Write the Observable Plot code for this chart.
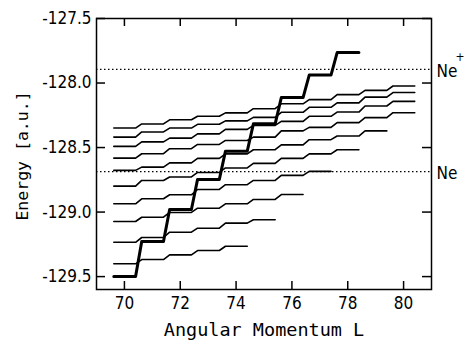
<!DOCTYPE html>
<html>
<head>
<meta charset="utf-8">
<script src="https://cdn.jsdelivr.net/npm/d3@7"></script>
<script src="https://cdn.jsdelivr.net/npm/@observablehq/plot@0.6"></script>
<style>
  html, body { margin: 0; padding: 0; background: white; }
</style>
</head>
<body>
<div id="chart"></div>
<script>
// Angular momentum values
const Ls = [70, 71, 72, 73, 74, 75, 76, 77, 78, 79, 80];
// Thin staircase series (energies in a.u., starting at L = 70)
const s1 = [-128.349, -128.317, -128.285, -128.258, -128.231, -128.199, -128.161, -128.129, -128.090, -128.057, -128.023];
const s2 = [-128.419, -128.379, -128.349, -128.320, -128.293, -128.266, -128.227, -128.188, -128.154, -128.109, -128.074];
const s3 = [-128.491, -128.456, -128.427, -128.394, -128.359, -128.328, -128.297, -128.258, -128.225, -128.178, -128.142];
const s4 = [-128.582, -128.548, -128.509, -128.476, -128.445, -128.419, -128.371, -128.344, -128.307, -128.268, -128.230];
const s5 = [-128.677, -128.652, -128.619, -128.584, -128.549, -128.517, -128.479, -128.439, -128.411, -128.371];
const s6 = [-128.799, -128.755, -128.728, -128.693, -128.658, -128.623, -128.584, -128.549, -128.517];
const s7 = [-128.936, -128.897, -128.866, -128.825, -128.788, -128.755, -128.716, -128.685];
const s8 = [-129.073, -129.040, -129.003, -128.970, -128.936, -128.902, -128.864];
const s9 = [-129.234, -129.197, -129.156, -129.125, -129.086, -129.060];
const s10 = [-129.401, -129.368, -129.332, -129.298, -129.265];
// Bold (yrast) series
const yrast = [-129.500, -129.228, -128.980, -128.747, -128.528, -128.316, -128.113, -127.938, -127.764];
// Thresholds
const thresholdNames = ["Ne", "Ne"];
const thresholdSup = ["+", ""];
const thresholdEnergies = [-127.895, -128.686];
// Ticks
const xTicks = [70, 72, 74, 76, 78, 80];
const yTicks = [-127.5, -128.0, -128.5, -129.0, -129.5];

// Each level is drawn as a short plateau around its integer L
const halfLeft = 0.38, halfRight = 0.40;
function stairs(values, id) {
  const pts = [];
  values.forEach((e, i) => {
    pts.push({L: Ls[i] - halfLeft, E: e, s: id});
    pts.push({L: Ls[i] + halfRight, E: e, s: id});
  });
  return pts;
}
const thinSeries = [s1, s2, s3, s4, s5, s6, s7, s8, s9, s10];
const thinPts = thinSeries.flatMap((v, k) => stairs(v, "s" + (k + 1)));
const boldPts = stairs(yrast, "yrast");
const thresholds = thresholdNames.map((n, i) => ({name: n, sup: thresholdSup[i], E: thresholdEnergies[i]}));
const supLabels = thresholds.filter(d => d.sup);

const W = 466, H = 343, mL = 96, mR = 35, mT = 18, mB = 54;
const fw = W - mL - mR, fh = H - mT - mB;

const chart = Plot.plot({
  width: W,
  height: H,
  marginLeft: mL,
  marginRight: mR,
  marginTop: mT,
  marginBottom: mB,
  x: {domain: [69, 81]},
  y: {domain: [-129.6, -127.5]},
  style: "font-family: 'DejaVu Sans'; font-stretch: condensed; font-size: 17px; color: black; background: white;",
  marks: [
    Plot.ruleY(thresholds, {y: "E", stroke: "black", strokeWidth: 1.2, strokeDasharray: "1.5,2.5"}),
    Plot.line(thinPts, {x: "L", y: "E", z: "s", stroke: "black", strokeWidth: 1.6}),
    Plot.line(boldPts, {x: "L", y: "E", stroke: "black", strokeWidth: 3}),
    Plot.frame({stroke: "black", strokeWidth: 1.5}),
    Plot.tickY(yTicks, {y: d => d, insetRight: fw - 9, stroke: "black", strokeWidth: 1.5}),
    Plot.tickY(yTicks, {y: d => d, insetLeft: fw - 9, stroke: "black", strokeWidth: 1.5}),
    Plot.tickX(xTicks, {x: d => d, insetTop: fh - 8, stroke: "black", strokeWidth: 1.5}),
    Plot.tickX(xTicks, {x: d => d, insetBottom: fh - 8, stroke: "black", strokeWidth: 1.5}),
    Plot.axisY(yTicks, {tickSize: 0, tickPadding: 5, tickFormat: d => d.toFixed(1), label: null}),
    Plot.axisX(xTicks, {tickSize: 0, tickPadding: 7, tickFormat: d => String(d), label: null}),
    Plot.text(thresholds, {y: "E", text: "name", frameAnchor: "right", dx: 5, dy: 2, textAnchor: "start", fontSize: 17}),
    Plot.text(supLabels, {y: "E", text: "sup", frameAnchor: "right", dx: 24, dy: -12, textAnchor: "start", fontSize: 12}),
    Plot.text(["Angular Momentum L"], {frameAnchor: "bottom", dy: 41, lineAnchor: "middle", textAnchor: "middle", fontFamily: "DejaVu Sans Mono", fontSize: 18.5}),
    Plot.text(["Energy [a.u.]"], {frameAnchor: "left", dx: -74, dy: 2, rotate: -90, lineAnchor: "middle", textAnchor: "middle", fontFamily: "DejaVu Sans Mono", fontSize: 16.5})
  ]
});
document.getElementById("chart").appendChild(chart);
</script>
</body>
</html>
